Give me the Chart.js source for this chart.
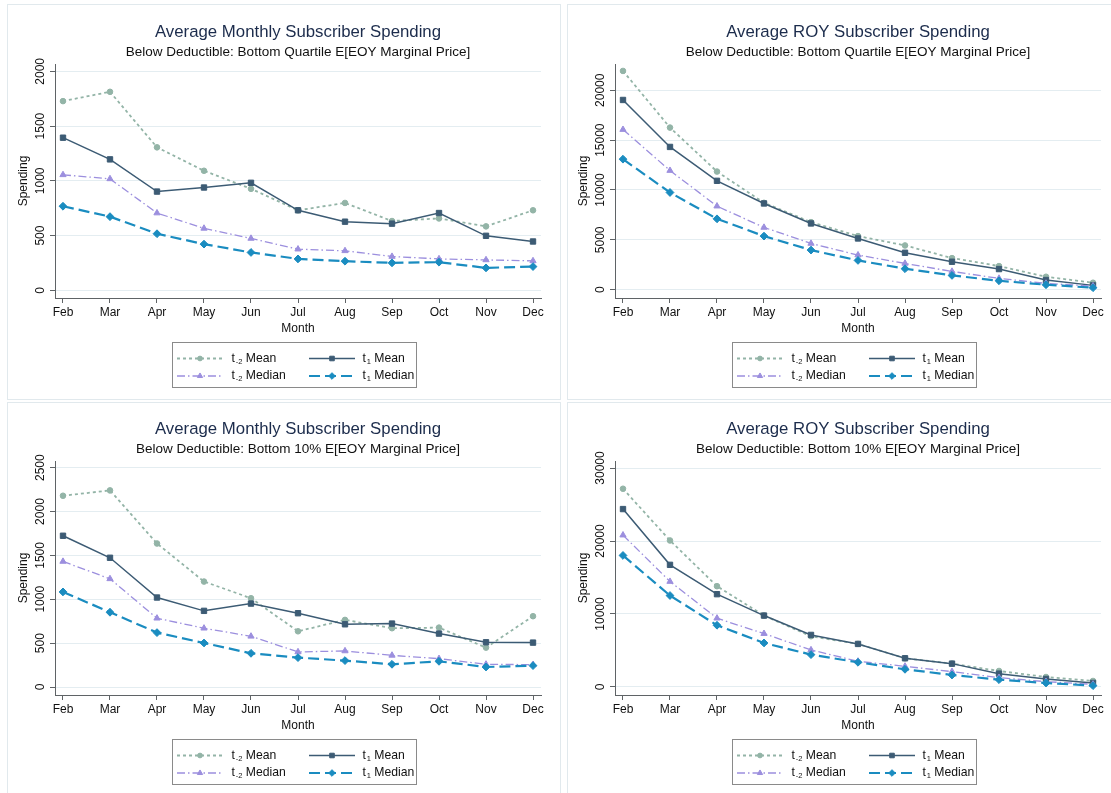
<!DOCTYPE html>
<html>
<head>
<meta charset="utf-8">
<script src="https://cdn.jsdelivr.net/npm/chart.js@4.4.1/dist/chart.umd.min.js"></script>
<style>
  html, body { margin: 0; padding: 0; background: #ffffff; }
  body { width: 1111px; height: 793px; position: relative; overflow: hidden; }
  .frame { position: absolute; box-sizing: border-box; border: 1px solid #e1e9ed; }
  canvas { position: absolute; }
</style>
</head>
<body>
<div class="frame" style="left:7px;top:4px;width:554px;height:396px"></div>
<div class="frame" style="left:567px;top:4px;width:560px;height:396px"></div>
<div class="frame" style="left:7px;top:402px;width:554px;height:420px"></div>
<div class="frame" style="left:567px;top:402px;width:560px;height:420px"></div>
<canvas id="c1"></canvas>
<canvas id="c2"></canvas>
<canvas id="c3"></canvas>
<canvas id="c4"></canvas>
<script>
// ---- data ----
const months = ['Feb', 'Mar', 'Apr', 'May', 'Jun', 'Jul', 'Aug', 'Sep', 'Oct', 'Nov', 'Dec'];

// Average monthly spending, bottom quartile
const monthlyQ_tm2Mean   = [1728, 1813, 1306, 1092, 927, 731, 798, 633, 657, 584, 731];
const monthlyQ_t1Mean    = [1394, 1196, 902, 939, 982, 731, 627, 609, 706, 498, 446];
const monthlyQ_tm2Median = [1055, 1018, 706, 566, 474, 376, 361, 309, 287, 278, 269];
const monthlyQ_t1Median  = [768, 673, 517, 422, 346, 287, 266, 251, 257, 205, 217];
const monthlyQ_ticks     = [0, 500, 1000, 1500, 2000];

// Average rest-of-year spending, bottom quartile
const royQ_tm2Mean   = [21940, 16260, 11850, 8715, 6780, 5380, 4440, 3170, 2370, 1300, 700];
const royQ_t1Mean    = [19030, 14320, 10920, 8650, 6645, 5140, 3705, 2805, 2070, 970, 435];
const royQ_tm2Median = [16060, 11950, 8380, 6245, 4640, 3475, 2640, 1835, 1135, 635, 365];
const royQ_t1Median  = [13090, 9750, 7110, 5375, 3975, 2940, 2105, 1435, 900, 500, 200];
const royQ_ticks     = [0, 5000, 10000, 15000, 20000];

// Average monthly spending, bottom 10%
const monthlyD_tm2Mean   = [2180, 2241, 1636, 1202, 1012, 635, 765, 670, 677, 449, 807];
const monthlyD_t1Mean    = [1724, 1473, 1020, 868, 951, 841, 715, 723, 609, 510, 506];
const monthlyD_tm2Median = [1431, 1233, 784, 670, 578, 400, 411, 361, 323, 259, 255];
const monthlyD_t1Median  = [1084, 852, 620, 502, 384, 335, 301, 259, 293, 228, 244];
const monthlyD_ticks     = [0, 500, 1000, 1500, 2000, 2500];

// Average rest-of-year spending, bottom 10%
const royD_tm2Mean   = [27160, 20075, 13810, 9785, 6950, 5900, 3935, 3200, 2195, 1370, 825];
const royD_t1Mean    = [24375, 16735, 12715, 9785, 7135, 5900, 3935, 3200, 1830, 1100, 550];
const royD_tm2Median = [20805, 14450, 9420, 7315, 5075, 3520, 2835, 2105, 1280, 730, 365];
const royD_t1Median  = [18020, 12530, 8460, 6035, 4435, 3385, 2425, 1645, 1005, 550, 185];
const royD_ticks     = [0, 10000, 20000, 30000];

const titleMonthly = 'Average Monthly Subscriber Spending';
const titleRoy = 'Average ROY Subscriber Spending';
const subQuartile = 'Below Deductible: Bottom Quartile E[EOY Marginal Price]';
const subDecile = 'Below Deductible: Bottom 10% E[EOY Marginal Price]';

// legend entries: base letter, subscript, word
const legendItems = [
  ['t', '-2', ' Mean'],
  ['t', '1', ' Mean'],
  ['t', '-2', ' Median'],
  ['t', '1', ' Median']
];

// ---- styling ----
const FONT = "'Liberation Sans', Arial, Helvetica, sans-serif";
const AXIS = '#5f6366';
const GRID = '#e4edf1';
const INK = '#111111';

const seriesStyle = [
  { color: '#93b4a7', dash: [3, 3], width: 1.8, point: 'circle', radius: 2.8, order: 3 },
  { color: '#3c5b74', dash: [], width: 1.5, point: 'rect', radius: 3.8, order: 2 },
  { color: '#9c8fde', dash: [8, 3, 1.5, 3], width: 1.3, point: 'triangle', radius: 3.6, order: 1 },
  { color: '#1a8cc0', dash: [11, 5], width: 2.2, point: 'rectRot', radius: 3.9, order: 0 }
];

// frame geometry (canvas-relative)
const AREA = { left: 48, right: 534, top: 60, bottom: 294 };

function measure(text, font) {
  const c = document.createElement('canvas').getContext('2d');
  c.font = font;
  return c.measureText(text).width;
}

const titlePlugin = {
  id: 'panelTitles',
  afterDraw(chart) {
    const o = chart.options.plugins.panelTitles;
    const ctx = chart.ctx;
    const cx = (chart.chartArea.left + chart.chartArea.right) / 2;
    ctx.save();
    ctx.textAlign = 'center';
    ctx.textBaseline = 'middle';
    ctx.fillStyle = '#1c2c4c';
    ctx.font = '16.8px ' + FONT;
    ctx.fillText(o.title, cx, 28.5);
    ctx.fillStyle = INK;
    ctx.font = '13.5px ' + FONT;
    ctx.fillText(o.subtitle, cx, 48.5);
    ctx.restore();
  }
};

const legendPlugin = {
  id: 'panelLegend',
  afterDraw(chart) {
    const ctx = chart.ctx;
    const box = { x: 165.5, y: 338.5, w: 244, h: 45 };
    ctx.save();
    ctx.strokeStyle = '#8a8a8a';
    ctx.lineWidth = 1;
    ctx.strokeRect(box.x, box.y, box.w, box.h);
    legendItems.forEach((item, k) => {
      const col = k % 2, row = Math.floor(k / 2);
      const sx0 = col ? 302 : 170, sx1 = sx0 + 46;
      const y = row ? 372 : 354.5;
      const st = seriesStyle[k];
      ctx.strokeStyle = st.color;
      ctx.lineWidth = st.width;
      ctx.setLineDash(st.dash);
      ctx.beginPath();
      ctx.moveTo(sx0, y);
      ctx.lineTo(sx1, y);
      ctx.stroke();
      ctx.setLineDash([]);
      ctx.fillStyle = st.color;
      ctx.strokeStyle = st.color;
      ctx.lineWidth = 1;
      Chart.helpers.drawPoint(ctx, { pointStyle: st.point, radius: st.radius * 0.85, borderWidth: 1, rotation: 0 }, (sx0 + sx1) / 2, y);
      // label text with subscript
      let tx = col ? 355.5 : 224.5;
      ctx.fillStyle = INK;
      ctx.textBaseline = 'middle';
      ctx.textAlign = 'left';
      ctx.font = '12.2px ' + FONT;
      ctx.fillText(item[0], tx, y);
      tx += ctx.measureText(item[0]).width + 0.8;
      ctx.font = '7.5px ' + FONT;
      ctx.fillText(item[1], tx, y + 3);
      tx += ctx.measureText(item[1]).width;
      ctx.font = '12.2px ' + FONT;
      ctx.fillText(item[2], tx, y);
    });
    ctx.restore();
  }
};

function makePanel(id, left, top, width, height, title, subtitle, series, ticks, yMin, yMax) {
  const canvas = document.getElementById(id);
  canvas.style.left = left + 'px';
  canvas.style.top = top + 'px';
  canvas.style.width = width + 'px';
  canvas.style.height = height + 'px';
  canvas.width = width;
  canvas.height = height;

  const tickFont = { family: FONT, size: 12 };
  const widest = Math.max(...ticks.map(v => measure(String(v), '12px ' + FONT)));
  const yLabelGap = 14.8;           // axis to centre of rotated tick labels
  const yPad = yLabelGap - 5 - widest / 2;
  const yTitleX = AREA.left - 31;   // centre of rotated axis title
  const padLeft = yTitleX - 7.2;

  const datasets = series.map((vals, k) => {
    const st = seriesStyle[k];
    return {
      data: vals.map((v, i) => ({ x: i, y: v })),
      borderColor: st.color,
      backgroundColor: st.color,
      borderWidth: st.width,
      borderDash: st.dash,
      pointStyle: st.point,
      pointRadius: st.radius,
      pointBorderWidth: 1,
      pointBackgroundColor: st.color,
      pointBorderColor: st.color,
      tension: 0,
      fill: false,
      order: st.order
    };
  });

  return new Chart(canvas, {
    type: 'line',
    data: { datasets },
    options: {
      responsive: false,
      animation: false,
      devicePixelRatio: 1,
      layout: { padding: { left: padLeft, top: AREA.top, right: width - AREA.right, bottom: height - 332 } },
      plugins: {
        legend: { display: false },
        tooltip: { enabled: false },
        panelTitles: { title, subtitle }
      },
      scales: {
        x: {
          type: 'linear',
          min: -0.17,
          max: 10.17,
          afterBuildTicks(s) { s.ticks = months.map((m, i) => ({ value: i })); },
          afterFit(s) { s.height = 332 - AREA.bottom; },
          ticks: {
            callback: v => months[v],
            autoSkip: false,
            maxRotation: 0,
            padding: 2.5,
            color: INK,
            font: tickFont
          },
          grid: { drawOnChartArea: false, tickLength: 5, tickColor: AXIS, tickWidth: 1 },
          border: { color: AXIS, width: 1 },
          title: { display: true, text: 'Month', color: INK, font: tickFont, padding: 0 }
        },
        y: {
          min: yMin,
          max: yMax,
          afterBuildTicks(s) { s.ticks = ticks.map(v => ({ value: v })); },
          afterFit(s) { s.width = AREA.left - padLeft; },
          ticks: {
            callback: v => String(v),
            minRotation: 90,
            maxRotation: 90,
            crossAlign: 'center',
            padding: yPad,
            color: INK,
            font: tickFont
          },
          grid: { color: GRID, lineWidth: 1, tickLength: 5, tickColor: AXIS, tickWidth: 1 },
          border: { color: AXIS, width: 1 },
          title: { display: true, text: 'Spending', color: INK, font: tickFont, padding: 0 }
        }
      }
    },
    plugins: [titlePlugin, legendPlugin]
  });
}

makePanel('c1', 7, 4, 553, 396, titleMonthly, subQuartile,
  [monthlyQ_tm2Mean, monthlyQ_t1Mean, monthlyQ_tm2Median, monthlyQ_t1Median], monthlyQ_ticks, -70, 2067);
makePanel('c2', 567, 4, 544, 396, titleRoy, subQuartile,
  [royQ_tm2Mean, royQ_t1Mean, royQ_tm2Median, royQ_t1Median], royQ_ticks, -831, 22636);
makePanel('c3', 7, 401, 553, 392, titleMonthly, subDecile,
  [monthlyD_tm2Mean, monthlyD_t1Mean, monthlyD_tm2Median, monthlyD_t1Median], monthlyD_ticks, -91, 2576);
makePanel('c4', 567, 401, 544, 392, titleRoy, subDecile,
  [royD_tm2Mean, royD_t1Mean, royD_tm2Median, royD_t1Median], royD_ticks, -1097, 30960);
</script>
</body>
</html>
